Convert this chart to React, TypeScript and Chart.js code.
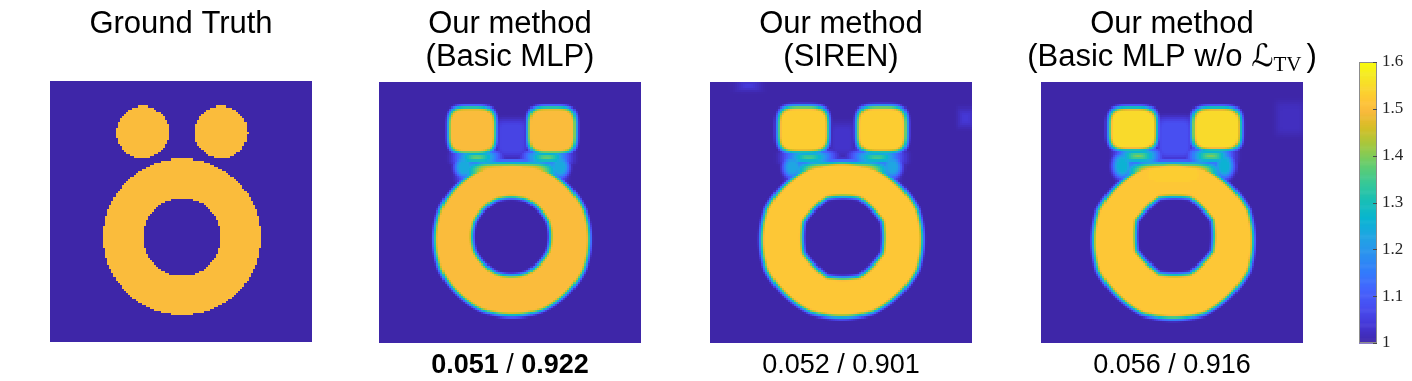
import React, { useEffect, useRef } from "react";
import { Chart, registerables } from "chart.js";

Chart.register(...registerables);

// ---------------- data ----------------
const GRID_N = 128;
const VALUE_MIN = 1.0;
const VALUE_MAX = 1.6;
const colorbarTicks = [1, 1.1, 1.2, 1.3, 1.4, 1.5, 1.6];

// parula colormap stops: [t, r, g, b]
const parulaStops = [
  [0.0, 62, 38, 168],
  [0.0635, 69, 55, 213],
  [0.127, 72, 77, 240],
  [0.19, 69, 99, 253],
  [0.254, 50, 124, 252],
  [0.317, 43, 145, 239],
  [0.381, 32, 165, 227],
  [0.444, 8, 181, 208],
  [0.508, 25, 191, 182],
  [0.571, 55, 200, 151],
  [0.635, 100, 205, 111],
  [0.698, 157, 201, 67],
  [0.762, 209, 191, 39],
  [0.794, 230, 187, 45],
  [0.825, 248, 186, 61],
  [0.857, 254, 195, 56],
  [0.889, 252, 207, 48],
  [0.952, 245, 233, 36],
  [1.0, 249, 251, 14],
];

const panelTitles = [
  ["Ground Truth"],
  ["Our method", "(Basic MLP)"],
  ["Our method", "(SIREN)"],
  ["Our method", "(Basic MLP w/o "],
];
const lossSymbol = "\u2112";
const lossSubscript = "TV";

// footer metrics: [text, bold]
const footerMetrics = [
  [],
  [["0.051", true], [" / ", false], ["0.922", true]],
  [["0.052 / 0.901", false]],
  [["0.056 / 0.916", false]],
];

// Ground truth phantom (normalized image coords, y down)
const gtDisks = [
  [0.353, 0.197, 0.101],
  [0.653, 0.197, 0.101],
];
const gtRing = [0.504, 0.598, 0.3, 0.148];
const gtValue = 1.5;

// reconstructions: dots [cx, cy, hw, hh, value]
const mlpDots = [
  [0.354, 0.185, 0.091, 0.09, 1.5],
  [0.66, 0.185, 0.092, 0.09, 1.5],
];
// ring [cx, cy, rxOuter, ryOuter, octOuter, cxIn, cyIn, rIn, octInner, value]
const mlpRing = [0.508, 0.603, 0.295, 0.292, 0.12, 0.505, 0.592, 0.147, 0.2, 1.5];
// patches [cx, cy, hw, hh, value, power]
const mlpPatches = [
  [0.505, 0.35, 0.16, 0.042, 1.5, 4],
  [0.375, 0.29, 0.058, 0.017, 1.4, 4],
  [0.64, 0.29, 0.058, 0.017, 1.4, 4],
  [0.325, 0.325, 0.035, 0.04, 1.24, 2],
  [0.69, 0.325, 0.035, 0.04, 1.24, 2],
  [0.507, 0.215, 0.058, 0.07, 1.06, 6],
];

const sirenDots = [
  [0.355, 0.182, 0.097, 0.089, 1.53],
  [0.656, 0.182, 0.095, 0.089, 1.53],
];
const sirenRing = [0.503, 0.604, 0.306, 0.296, 0.2, 0.508, 0.595, 0.152, 0.55, 1.52];
const sirenPatches = [
  [0.505, 0.35, 0.16, 0.042, 1.52, 4],
  [0.378, 0.29, 0.062, 0.017, 1.38, 4],
  [0.636, 0.29, 0.062, 0.017, 1.38, 4],
  [0.315, 0.325, 0.035, 0.04, 1.23, 2],
  [0.695, 0.325, 0.035, 0.04, 1.23, 2],
  [0.506, 0.22, 0.045, 0.06, 1.03, 6],
  [0.147, 0.014, 0.032, 0.014, 1.05, 6],
  [0.975, 0.137, 0.025, 0.03, 1.04, 6],
];

const noTvDots = [
  [0.35, 0.18, 0.092, 0.083, 1.55],
  [0.67, 0.18, 0.093, 0.083, 1.55],
];
const noTvRing = [0.505, 0.608, 0.303, 0.296, 0.25, 0.51, 0.589, 0.145, 0.65, 1.52];
const noTvPatches = [
  [0.505, 0.355, 0.16, 0.045, 1.53, 4],
  [0.372, 0.285, 0.058, 0.02, 1.4, 4],
  [0.648, 0.285, 0.058, 0.02, 1.4, 4],
  [0.31, 0.32, 0.035, 0.045, 1.26, 2],
  [0.7, 0.32, 0.035, 0.045, 1.26, 2],
  [0.51, 0.215, 0.066, 0.078, 1.08, 6],
  [0.95, 0.14, 0.05, 0.06, 1.02, 6],
];

const edgeWidths = [0, 0.014, 0.015, 0.015];

// ---------------- field construction ----------------
function smoothstep(e0: number, e1: number, x: number) {
  const t = Math.min(1, Math.max(0, (x - e0) / (e1 - e0)));
  return t * t * (3 - 2 * t);
}
function superSd(x: number, y: number, cx: number, cy: number, hw: number, hh: number, p: number) {
  const dx = Math.abs(x - cx) / hw;
  const dy = Math.abs(y - cy) / hh;
  const d = Math.pow(Math.pow(dx, p) + Math.pow(dy, p), 1 / p);
  return (1 - d) * Math.min(hw, hh);
}
function octoSd(x: number, y: number, cx: number, cy: number, rx: number, ry: number, oct: number) {
  const nx = (x - cx) / rx;
  const ny = (y - cy) / ry;
  const r = Math.hypot(nx, ny);
  const o = Math.max(Math.abs(nx), Math.abs(ny), (Math.abs(nx) + Math.abs(ny)) / Math.SQRT2) * 0.97;
  const d = (1 - oct) * r + oct * o;
  return (1 - d) * Math.min(rx, ry);
}

type Cell = { x: number; y: number; v: number };

function buildCells(valueAt: (x: number, y: number) => number): Cell[] {
  const cells: Cell[] = [];
  for (let j = 0; j < GRID_N; j++) {
    for (let i = 0; i < GRID_N; i++) {
      const x = (i + 0.5) / GRID_N;
      const y = (j + 0.5) / GRID_N;
      cells.push({ x, y, v: valueAt(x, y) });
    }
  }
  return cells;
}

function gtValueAt(x: number, y: number) {
  let inside = false;
  for (const [cx, cy, r] of gtDisks) if (Math.hypot(x - cx, y - cy) <= r) inside = true;
  const [rcx, rcy, ro, ri] = gtRing;
  const d = Math.hypot(x - rcx, y - rcy);
  if (d <= ro && d >= ri) inside = true;
  return inside ? gtValue : VALUE_MIN;
}

function reconValueAt(dots: number[][], ring: number[], patches: number[][], w: number) {
  return (x: number, y: number) => {
    let v = VALUE_MIN;
    for (const [cx, cy, hw, hh, val] of dots) {
      const m = smoothstep(-w, w, superSd(x, y, cx, cy, hw, hh, 4));
      v = Math.max(v, VALUE_MIN + (val - VALUE_MIN) * m);
    }
    const [cx, cy, rxo, ryo, oo, cxi, cyi, ri, oi, rv] = ring;
    const mo = smoothstep(-w, w, octoSd(x, y, cx, cy, rxo, ryo, oo));
    const mi = smoothstep(-w, w, octoSd(x, y, cxi, cyi, ri, ri, oi));
    v = Math.max(v, VALUE_MIN + (rv - VALUE_MIN) * mo * (1 - mi));
    for (const [pcx, pcy, hw, hh, val, p] of patches) {
      let m = smoothstep(-w * 1.4, w * 1.4, superSd(x, y, pcx, pcy, hw, hh, p));
      if (val >= 1.45) m *= 1 - mi;
      v = Math.max(v, VALUE_MIN + (val - VALUE_MIN) * m);
    }
    return v;
  };
}

const panelCells: Cell[][] = [
  buildCells(gtValueAt),
  buildCells(reconValueAt(mlpDots, mlpRing, mlpPatches, edgeWidths[1])),
  buildCells(reconValueAt(sirenDots, sirenRing, sirenPatches, edgeWidths[2])),
  buildCells(reconValueAt(noTvDots, noTvRing, noTvPatches, edgeWidths[3])),
];

// ---------------- colormap ----------------
const colorCache = new Map<number, string>();
function parula(v: number) {
  const key = Math.round(v * 2000);
  const hit = colorCache.get(key);
  if (hit) return hit;
  const t = Math.min(1, Math.max(0, (v - VALUE_MIN) / (VALUE_MAX - VALUE_MIN)));
  let k = 0;
  while (k < parulaStops.length - 2 && t > parulaStops[k + 1][0]) k++;
  const a = parulaStops[k];
  const b = parulaStops[k + 1];
  const f = Math.min(1, Math.max(0, (t - a[0]) / (b[0] - a[0])));
  const c = `rgb(${Math.round(a[1] + (b[1] - a[1]) * f)},${Math.round(a[2] + (b[2] - a[2]) * f)},${Math.round(
    a[3] + (b[3] - a[3]) * f
  )})`;
  colorCache.set(key, c);
  return c;
}

// ---------------- layout ----------------
const FIG_W = 1412;
const FIG_H = 381;
const panelLeft = [50, 379, 710, 1041];
const panelTop = [81, 82, 82, 82];
const IMG_W = 262;
const IMG_H = 261;
const PANEL_MARGIN = 34;
const PANEL_W = IMG_W + PANEL_MARGIN * 2;
const TITLE_FONT = "Liberation Sans, Arial, Helvetica, sans-serif";
const TITLE_SIZE = 31;
const TITLE_BASELINES = [33, 66];
const FOOTER_SIZE = 27;
const FOOTER_BASELINE = 372.5;

const heatmapPlugin = {
  id: "heatmapCells",
  beforeDatasetsDraw(chart: any) {
    const ds = chart.data.datasets[0];
    if (!ds) return;
    const xs = chart.scales.x;
    const ys = chart.scales.y;
    const ctx = chart.ctx as CanvasRenderingContext2D;
    const h = 0.5 / GRID_N;
    ctx.save();
    for (const c of ds.data as Cell[]) {
      const x0 = Math.round(xs.getPixelForValue(c.x - h));
      const x1 = Math.round(xs.getPixelForValue(c.x + h));
      const ya = Math.round(ys.getPixelForValue(c.y - h));
      const yb = Math.round(ys.getPixelForValue(c.y + h));
      if (x1 === x0 || ya === yb) continue;
      ctx.fillStyle = parula(c.v);
      ctx.fillRect(Math.min(x0, x1), Math.min(ya, yb), Math.abs(x1 - x0), Math.abs(yb - ya));
    }
    ctx.restore();
  },
};

function drawSegments(ctx: CanvasRenderingContext2D, cx: number, baseline: number, segs: { text: string; font: string; dy?: number; gap?: number }[]) {
  let total = 0;
  for (const s of segs) {
    ctx.font = s.font;
    total += ctx.measureText(s.text).width + (s.gap || 0);
  }
  let x = cx - total / 2;
  ctx.textAlign = "left";
  ctx.textBaseline = "alphabetic";
  for (const s of segs) {
    ctx.font = s.font;
    ctx.fillText(s.text, x, baseline + (s.dy || 0));
    x += ctx.measureText(s.text).width + (s.gap || 0);
  }
}

function makeTextPlugin(index: number) {
  return {
    id: "panelText",
    afterDraw(chart: any) {
      const ctx = chart.ctx as CanvasRenderingContext2D;
      const area = chart.chartArea;
      const cx = (area.left + area.right) / 2;
      ctx.save();
      ctx.fillStyle = "#000";
      const lines = panelTitles[index];
      lines.forEach((line, li) => {
        if (index === 3 && li === 1) {
          drawSegments(ctx, cx, TITLE_BASELINES[li], [
            { text: line, font: `${TITLE_SIZE}px ${TITLE_FONT}` },
            { text: lossSymbol, font: `italic ${TITLE_SIZE}px 'DejaVu Serif', 'DejaVu Sans', serif` },
            { text: lossSubscript, font: `21px 'Liberation Serif', 'DejaVu Serif', serif`, dy: 5, gap: 5 },
            { text: ")", font: `${TITLE_SIZE}px ${TITLE_FONT}` },
          ]);
        } else {
          ctx.font = `${TITLE_SIZE}px ${TITLE_FONT}`;
          ctx.textAlign = "center";
          ctx.textBaseline = "alphabetic";
          ctx.fillText(line, cx, TITLE_BASELINES[li]);
        }
      });
      const segs = footerMetrics[index] as [string, boolean][];
      if (segs.length) {
        drawSegments(
          ctx,
          cx,
          FOOTER_BASELINE,
          segs.map(([t, b]) => ({ text: t, font: `${b ? "bold " : ""}${FOOTER_SIZE}px ${TITLE_FONT}` }))
        );
      }
      ctx.restore();
    },
  };
}

function Panel({ index }: { index: number }) {
  const ref = useRef<HTMLCanvasElement>(null);
  useEffect(() => {
    const chart = new Chart(ref.current!, {
      type: "scatter",
      data: {
        datasets: [{ data: panelCells[index] as any, pointRadius: 0, pointHoverRadius: 0, showLine: false }],
      },
      options: {
        animation: false,
        responsive: false,
        events: [],
        layout: {
          padding: {
            left: PANEL_MARGIN,
            right: PANEL_MARGIN,
            top: panelTop[index],
            bottom: FIG_H - panelTop[index] - IMG_H,
          },
        },
        scales: {
          x: { type: "linear", min: 0, max: 1, display: false },
          y: { type: "linear", min: 0, max: 1, reverse: true, display: false },
        },
        plugins: { legend: { display: false }, tooltip: { enabled: false }, title: { display: false } },
      },
      plugins: [heatmapPlugin, makeTextPlugin(index)],
    } as any);
    return () => chart.destroy();
  }, [index]);
  return (
    <canvas
      ref={ref}
      width={PANEL_W}
      height={FIG_H}
      style={{ position: "absolute", left: panelLeft[index] - PANEL_MARGIN, top: 0, width: PANEL_W, height: FIG_H }}
    />
  );
}

const CB_LEFT = 1340;
const CB_W = 72;
const CB_PAD_LEFT = 19;
const CB_AXIS_W = 35;
const CB_TOP = 62;
const CB_BOTTOM = 343;

const colorbarPlugin = {
  id: "colorbarFill",
  beforeDatasetsDraw(chart: any) {
    const ys = chart.scales.y;
    const area = chart.chartArea;
    const ctx = chart.ctx as CanvasRenderingContext2D;
    const step = 0.002;
    for (let v = VALUE_MIN; v < VALUE_MAX - 1e-9; v += step) {
      const yTop = ys.getPixelForValue(Math.min(VALUE_MAX, v + step));
      const yBot = ys.getPixelForValue(v);
      ctx.fillStyle = parula(v + step / 2);
      ctx.fillRect(area.left, yTop, area.right - area.left, yBot - yTop + 0.6);
    }
    ctx.strokeStyle = "#8c8c8c";
    ctx.lineWidth = 1;
    ctx.strokeRect(area.left + 0.5, area.top + 0.5, area.right - area.left - 1, area.bottom - area.top - 1);
    ctx.strokeStyle = "#4a4a4a";
    for (const t of colorbarTicks) {
      const y = Math.round(ys.getPixelForValue(t)) + 0.5;
      ctx.beginPath();
      ctx.moveTo(area.right - 4, y);
      ctx.lineTo(area.right, y);
      ctx.stroke();
    }
  },
};

function Colorbar() {
  const ref = useRef<HTMLCanvasElement>(null);
  useEffect(() => {
    const chart = new Chart(ref.current!, {
      type: "scatter",
      data: { datasets: [{ data: [], pointRadius: 0 }] },
      options: {
        animation: false,
        responsive: false,
        events: [],
        layout: { padding: { left: CB_PAD_LEFT, right: 0, top: CB_TOP, bottom: FIG_H - CB_BOTTOM } },
        scales: {
          x: { type: "linear", min: 0, max: 1, display: false },
          y: {
            type: "linear",
            position: "right",
            min: VALUE_MIN,
            max: VALUE_MAX,
            afterBuildTicks: (scale: any) => {
              scale.ticks = colorbarTicks.map((v) => ({ value: v }));
            },
            afterFit: (scale: any) => {
              scale.width = CB_AXIS_W;
            },
            grid: { display: false, drawTicks: false },
            border: { display: false },
            ticks: {
              padding: 5,
              color: "#262626",
              font: { family: "'Liberation Serif', 'DejaVu Serif', serif", size: 17 },
              callback: (v: any) => String(Math.round(Number(v) * 10) / 10),
            },
          },
        },
        plugins: { legend: { display: false }, tooltip: { enabled: false } },
      },
      plugins: [colorbarPlugin],
    } as any);
    return () => chart.destroy();
  }, []);
  return (
    <canvas
      ref={ref}
      width={CB_W}
      height={FIG_H}
      style={{ position: "absolute", left: CB_LEFT, top: 0, width: CB_W, height: FIG_H }}
    />
  );
}

export default function App() {
  return (
    <div style={{ position: "fixed", left: 0, top: 0, width: FIG_W, height: FIG_H, background: "#fff", overflow: "hidden" }}>
      {[0, 1, 2, 3].map((i) => (
        <Panel key={i} index={i} />
      ))}
      <Colorbar />
    </div>
  );
}
